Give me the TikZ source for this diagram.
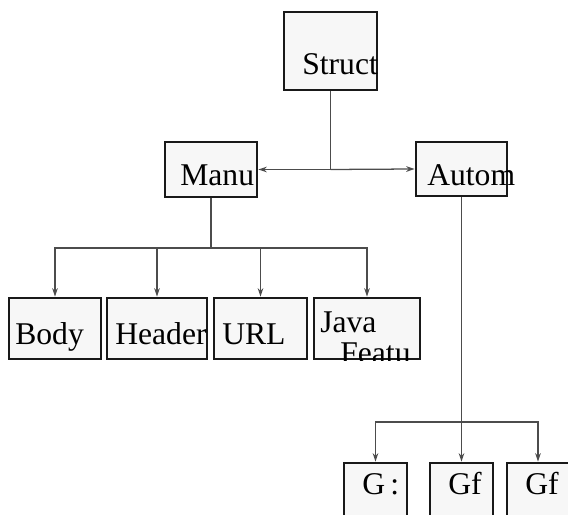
\documentclass[tikz,border=0pt]{standalone}
\usepackage{fontspec}
\setmainfont{Liberation Serif}
\usetikzlibrary{arrows.meta}
\tikzset{
  box/.style={draw=black!90, line width=2pt, fill=black!3, inner sep=0pt},
  lbl/.style={anchor=base west, inner sep=0pt, font=\fontsize{22.5}{26}\selectfont},
  link/.style={draw=black!70, line width=0.9pt},
  tip/.style={-{Stealth[length=6pt,width=4pt]}}
}
\begin{document}
\begin{tikzpicture}
\useasboundingbox (0,0) rectangle (14.2,12.875);
\node[box, minimum width=2.325cm, minimum height=1.95cm] (Struct) at (8.2625,11.6) {};
\node[box, minimum width=2.3cm, minimum height=1.375cm] (Manu) at (5.275,8.6375) {};
\node[box, minimum width=2.275cm, minimum height=1.35cm] (Autom) at (11.5375,8.65) {};
\node[box, minimum width=2.3cm, minimum height=1.525cm] (Body) at (1.375,4.6625) {};
\node[box, minimum width=2.5cm, minimum height=1.525cm] (Header) at (3.925,4.6625) {};
\node[box, minimum width=2.325cm, minimum height=1.525cm] (URL) at (6.5125,4.6625) {};
\node[box, minimum width=2.65cm, minimum height=1.525cm] (Java) at (9.175,4.6625) {};
\node[box, minimum width=1.575cm, minimum height=1.5cm] (G1) at (9.3875,0.55) {};
\node[box, minimum width=1.575cm, minimum height=1.5cm] (G2) at (11.5375,0.55) {};
\node[box, minimum width=1.55cm, minimum height=1.5cm] (G3) at (13.45,0.55) {};

\node[lbl] (tStruct) at (7.55,11.0) {Struct};
\node[lbl] (tManu) at (4.5,8.225) {Manu};
\node[lbl] (tAutom) at (10.675,8.225) {Autom};
\node[lbl] (tBody) at (0.375,4.25) {Body};
\node[lbl] (tHeader) at (2.875,4.25) {Header};
\node[lbl] (tURL) at (5.55,4.25) {URL};
\begin{scope}
\clip (Java.north west) rectangle (Java.south east);
\node[lbl] (tJava) at (8.0,4.55) {Java};
\node[lbl] (tFeatu) at (8.5,3.775) {Featu};
\end{scope}
\node[lbl] (tG1) at (9.05,0.5) {G\,:};
\node[lbl] (tG2) at (11.2,0.5) {Gf};
\node[lbl] (tG3) at (13.125,0.5) {Gf};

\coordinate (j) at (Struct.south |- Manu.east);
\coordinate (m) at (Manu.south |- 0,6.675);
\coordinate (a) at (Autom.south |- 0,2.325);
\draw[link] (Struct.south) -- (j);
\draw[link,tip] (j) -- (Manu.east);
\draw[link,tip] (j) -- (Autom.west);
\draw[link] (Manu.south) -- (m);
\foreach \n in {Body,Header,URL,Java}
  \draw[link,tip] (m) -| (\n.north);
\draw[link] (Autom.south) -- (a);
\foreach \n in {G1,G2,G3}
  \draw[link,tip] (a) -| (\n.north);
\end{tikzpicture}
\end{document}
